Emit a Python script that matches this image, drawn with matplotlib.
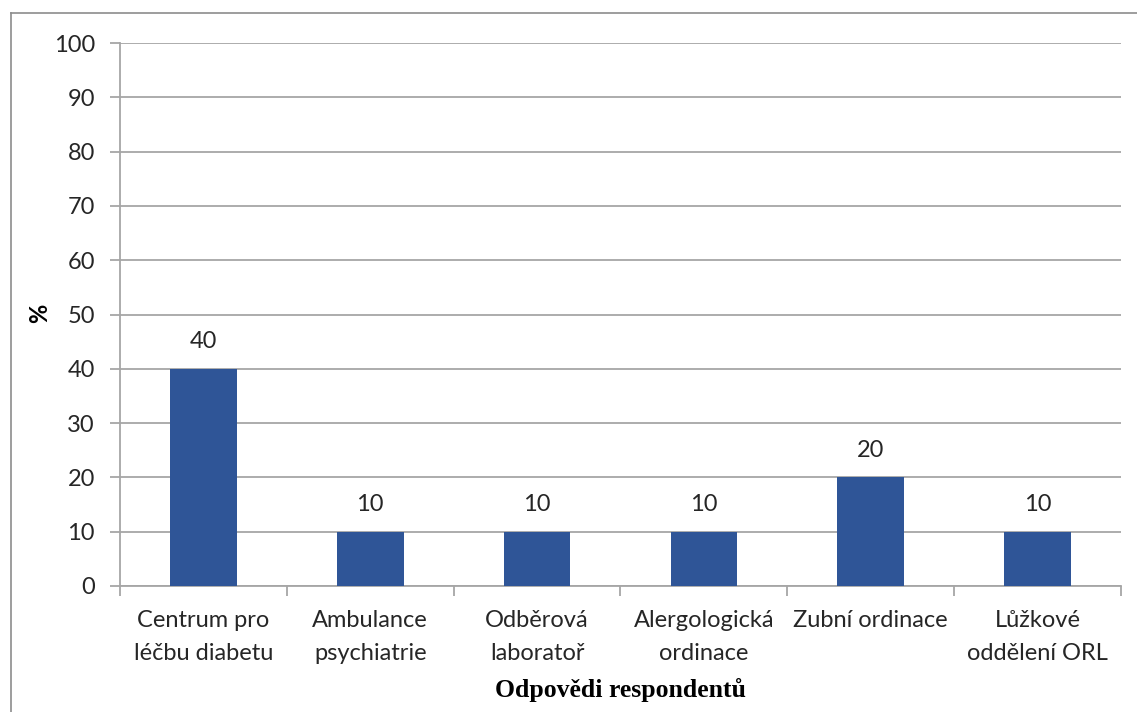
import matplotlib
matplotlib.use("Agg")
import matplotlib.pyplot as plt
from matplotlib.lines import Line2D
import numpy as np

categories = [
    "Centrum pro\nléčbu diabetu",
    "Ambulance\npsychiatrie",
    "Odběrová\nlaboratoř",
    "Alergologická\nordinace",
    "Zubní ordinace",
    "Lůžkové\noddělení ORL",
]
values = [40, 10, 10, 10, 20, 10]
y_ticks = [0, 10, 20, 30, 40, 50, 60, 70, 80, 90, 100]

W, H = 1137, 712
DPI = 100
BAR_COLOR = "#2F5597"
GRID_COLOR = "#A6A6A6"
TEXT_COLOR = "#262626"
FONT = ["Lato", "DejaVu Sans"]
FS = 17

fig = plt.figure(figsize=(W / DPI, H / DPI), dpi=DPI)
fig.patch.set_facecolor("white")

# chart frame (top and left edges)
fig.add_artist(Line2D([11 / W, 11 / W], [0, 1 - 13 / H], transform=fig.transFigure,
                      color="#8C8C8C", lw=1.2))
fig.add_artist(Line2D([11 / W, 1], [1 - 13 / H, 1 - 13 / H], transform=fig.transFigure,
                      color="#8C8C8C", lw=1.2))

left, right, top, bottom = 120, 1121, 43, 586
ax = fig.add_axes([left / W, 1 - bottom / H, (right - left) / W, (bottom - top) / H])

x = np.arange(len(categories))
ax.bar(x, values, width=0.4, color=BAR_COLOR, zorder=3)
for xi, v in zip(x, values):
    ax.annotate(f"{v}", (xi, v), xytext=(0, 27), textcoords="offset pixels",
                ha="center", va="center", fontsize=FS, family=FONT, color=TEXT_COLOR)

ax.set_xlim(-0.5, len(categories) - 0.5)
ax.set_ylim(0, 100)
ax.set_yticks(y_ticks)
ax.yaxis.grid(True, color=GRID_COLOR, lw=1.3, zorder=0)
ax.set_axisbelow(True)

for s in ["top", "right"]:
    ax.spines[s].set_visible(False)
for s in ["left", "bottom"]:
    ax.spines[s].set_color(GRID_COLOR)
    ax.spines[s].set_linewidth(1.3)

ax.tick_params(axis="y", length=7, width=1.3, color=GRID_COLOR, pad=11,
               labelsize=FS, labelcolor=TEXT_COLOR)
for lab in ax.get_yticklabels():
    lab.set_family(FONT)

ax.set_xticks(x)
ax.set_xticklabels(categories, fontsize=FS, family=FONT, color=TEXT_COLOR,
                   linespacing=1.7)
ax.set_xticks(np.arange(-0.5, len(categories)), minor=True)
ax.tick_params(axis="x", which="major", length=0, pad=17)
ax.tick_params(axis="x", which="minor", length=7, width=1.3, color=GRID_COLOR)

ax.set_xlabel("Odpovědi respondentů", fontsize=18.5, fontweight="bold",
              family=["Liberation Serif", "DejaVu Serif"], color="black")
ax.xaxis.set_label_coords(0.5, -(690 - bottom) / (bottom - top))
ax.xaxis.label.set_va("center")

ax.set_ylabel("%", fontsize=17, fontweight="bold", family=FONT, color="black")
ax.yaxis.set_label_coords(-(left - 40) / (right - left), (bottom - 313) / (bottom - top))
ax.yaxis.label.set_va("center")

fig.savefig("out.png", dpi=DPI, facecolor="white")
